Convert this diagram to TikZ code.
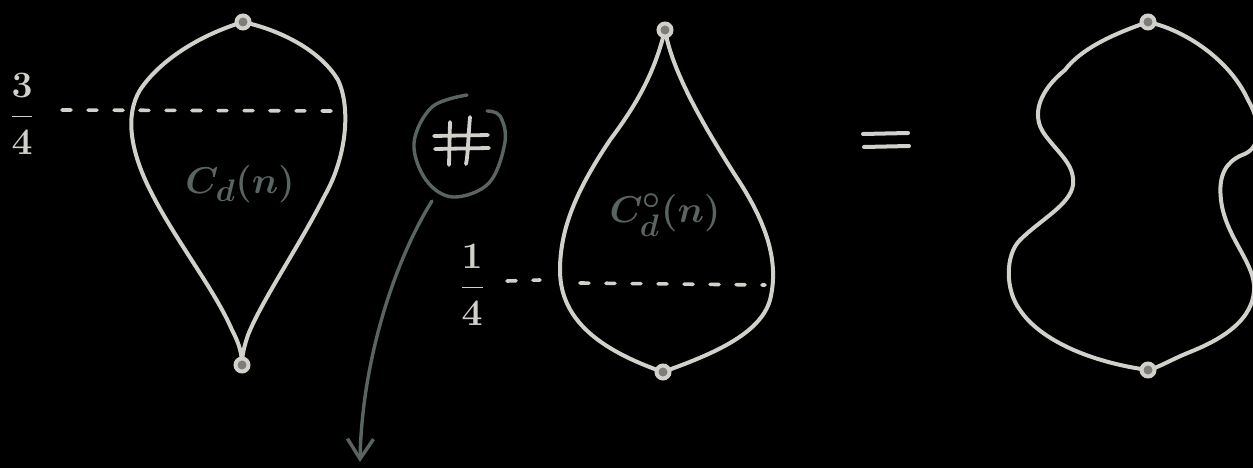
\documentclass[tikz,border=0pt]{standalone}
\usepackage{amsmath}
\usepackage{graphicx}
\usetikzlibrary{arrows.meta}
\definecolor{chalk}{HTML}{D2D0CB}
\definecolor{slate}{HTML}{5A6463}
\tikzset{
  curve/.style={draw=chalk, line width=4pt, line cap=round, line join=round},
  dash line/.style={draw=chalk, line width=3.6pt, line cap=round, dash pattern=on 9pt off 17pt},
  vertex/.style={circle, draw=chalk, fill=chalk!60!black, line width=4pt, inner sep=0pt, minimum size=13pt},
  grey ink/.style={draw=slate, line width=3.4pt, line cap=round, line join=round},
  label ink/.style={text=slate, font=\Huge\boldmath},
  frac ink/.style={text=chalk, font=\Huge\boldmath},
}
\begin{document}
\begin{tikzpicture}[x=1pt,y=-1pt]
\fill[black] (0,0) rectangle (1253,468);
\useasboundingbox (0,0) rectangle (1253,468);
\clip (0,0) rectangle (1253,468);

% ---------- left shape ----------
\coordinate (Lt) at (243,22);
\coordinate (Lb) at (242,365);
\draw[curve] (Lt) .. controls (200,35) and (160,60) .. (140,90)
  .. controls (125,115) and (130,150) .. (150,190)
  .. controls (175,240) and (215,290) .. (232,330)
  .. controls (240,345) and (242,355) .. (Lb);
\draw[curve] (Lt) .. controls (280,30) and (320,50) .. (338,80)
  .. controls (352,110) and (345,160) .. (325,195)
  .. controls (300,245) and (262,300) .. (248,335)
  .. controls (244,347) and (242,355) .. (Lb);
\node[vertex] (Ltop) at (Lt) {};
\node[vertex] (Lbot) at (Lb) {};
\coordinate (d1a) at (62,110);
\coordinate (d1b) at (336,111);
\draw[dash line] (d1a) -- (d1b);
\node[frac ink] (f1) at (22,114) {\scalebox{1.5}{$\dfrac{3}{4}$}};
\node[label ink] (c1) at (240,184) {\scalebox{1.5}{$C_{d}(n)$}};

% ---------- hash circle and arrow ----------
\draw[grey ink] plot[smooth, tension=0.6] coordinates {(467,95) (432,107) (414,143) (426,180) (453,197) (489,183) (505,142) (500,116) (487,111)};
\coordinate (h1) at (450,122);
\coordinate (h2) at (449,165);
\coordinate (h3) at (470,117);
\coordinate (h4) at (466,164);
\coordinate (h5) at (434,136);
\coordinate (h6) at (488,135);
\coordinate (h7) at (435,149);
\coordinate (h8) at (489,148);
\draw[curve, line width=3.8pt] (h1) -- (h2) (h3) .. controls (468,140) and (468,155) .. (h4)
  (h5) -- (h6) (h7) -- (h8);
\coordinate (a0) at (432,201);
\coordinate (a1) at (360,462);
\draw[grey ink, -{Straight Barb[length=20pt,width=26pt,line width=3.4pt]}]
  (a0) .. controls (395,260) and (362,360) .. (a1);

% ---------- middle shape ----------
\coordinate (Mt) at (665,30);
\coordinate (Mb) at (663,372);
\draw[curve] (Mt) .. controls (655,70) and (640,100) .. (610,140)
  .. controls (580,185) and (560,225) .. (560,270)
  .. controls (560,320) and (600,350) .. (Mb);
\draw[curve] (Mt) .. controls (672,70) and (700,120) .. (735,175)
  .. controls (765,220) and (780,260) .. (770,300)
  .. controls (760,335) and (710,355) .. (Mb);
\node[vertex] (Mtop) at (Mt) {};
\node[vertex] (Mbot) at (Mb) {};
\coordinate (d2a) at (507,281);
\coordinate (d2b) at (540,280);
\coordinate (d2c) at (580,283);
\coordinate (d2d) at (765,285);
\draw[dash line] (d2a) -- (d2b);
\draw[dash line] (d2c) -- (d2d);
\node[frac ink] (f2) at (472,285) {\scalebox{1.5}{$\dfrac{1}{4}$}};
\node[label ink] (c2) at (665,215) {\scalebox{1.5}{$C^{\circ}_{d}(n)$}};

% ---------- equals ----------
\coordinate (e1) at (863,134);
\coordinate (e2) at (908,133);
\coordinate (e3) at (864,147);
\coordinate (e4) at (909,146);
\draw[curve] (e1) -- (e2) (e3) -- (e4);

% ---------- right shape ----------
\coordinate (Rt) at (1148,22);
\coordinate (Rb) at (1148,370);
\draw[curve] (Rt) .. controls (1110,35) and (1080,50) .. (1065,70)
  .. controls (1040,90) and (1030,115) .. (1045,135)
  .. controls (1060,155) and (1075,165) .. (1073,185)
  .. controls (1070,205) and (1040,220) .. (1020,240)
  .. controls (1005,255) and (1005,290) .. (1020,310)
  .. controls (1040,340) and (1090,362) .. (Rb);
\draw[curve] (Rt) .. controls (1185,30) and (1230,60) .. (1248,100)
  .. controls (1265,130) and (1258,150) .. (1242,155)
  .. controls (1226,162) and (1218,175) .. (1221,200)
  .. controls (1225,235) and (1252,260) .. (1254,285)
  .. controls (1256,320) and (1220,340) .. (1190,352)
  .. controls (1170,360) and (1160,367) .. (Rb);
\node[vertex] (Rtop) at (Rt) {};
\node[vertex] (Rbot) at (Rb) {};
\end{tikzpicture}
\end{document}
